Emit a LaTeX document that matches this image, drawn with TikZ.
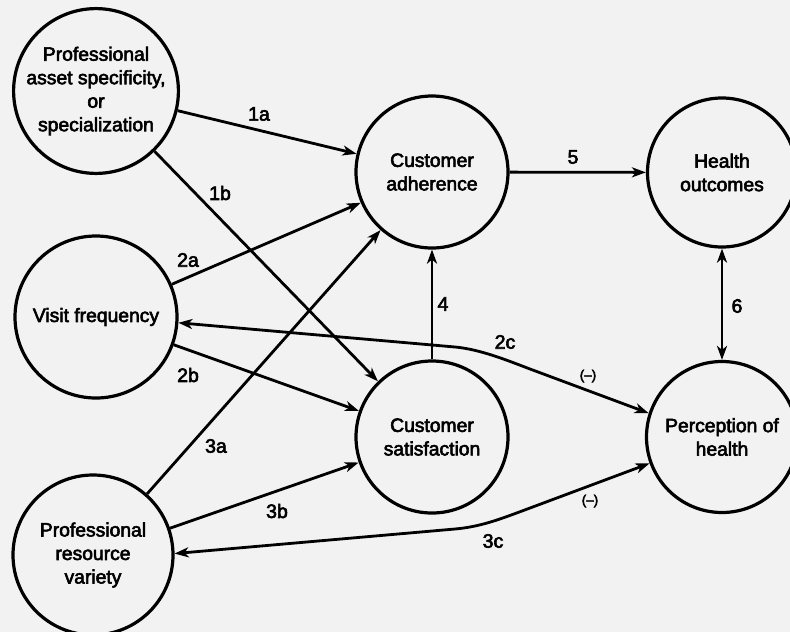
\documentclass[tikz,border=0pt]{standalone}
\usepackage{fontspec}
\setmainfont{Liberation Sans}[BoldFont=Liberation Sans,BoldFeatures={FakeBold=3}]
\usetikzlibrary{arrows.meta}
\begin{document}
\begin{tikzpicture}[x=1pt,y=-1pt,
  >={Stealth[length=14pt,width=10pt,inset=4pt]},
  construct/.style={circle,draw,line width=3.2pt,inner sep=0pt,align=center,
    font=\fontsize{19.3}{23.5}\selectfont\bfseries},
  link/.style={line width=2.8pt,->},
  twoway/.style={line width=2.8pt,<->},
  pathno/.style={inner sep=0pt,font=\fontsize{19.5}{23}\selectfont\bfseries},
  signlab/.style={inner sep=0pt,font=\fontsize{13.5}{16}\selectfont\bfseries}]
\fill[black!5] (0,0) rectangle (790,632);
\useasboundingbox (0,0) rectangle (790,632);

% constructs
\node[construct,minimum size=162pt] (asset) at (96,91)
  {Professional\\asset specificity,\\or\\specialization};
\node[construct,minimum size=162pt] (visit) at (96,317) {Visit frequency};
\node[construct,minimum size=160pt] (variety) at (93,555)
  {Professional\\resource\\variety};
\node[construct,minimum size=152pt] (adh) at (432,172) {Customer\\adherence};
\node[construct,minimum size=152pt] (sat) at (432,437) {Customer\\satisfaction};
\node[construct,minimum size=149pt] (hout) at (722,172.5) {Health\\outcomes};
\node[construct,minimum size=151pt] (perc) at (722,437) {Perception of\\health};

% bend points of the two feedback paths
\coordinate (v2c) at (455,347);
\coordinate (p2c) at (530,369);
\coordinate (v3c) at (455,529);
\coordinate (p3c) at (522,511);

% hypothesised paths
\draw[link] (asset) -- (adh);
\draw[link] (asset) -- (sat);
\draw[link] (visit) -- (adh);
\draw[link] (visit) -- (sat);
\draw[link] (variety) -- (adh);
\draw[link] (variety) -- (sat);
\draw[link] (sat) -- (adh);
\draw[link] (adh) -- (hout);
\draw[twoway] (hout) -- (perc);
\draw[twoway] (visit.-4) -- (v2c) .. controls (480,349.3) and (506.6,360.1) .. (p2c) -- (perc.162);
\draw[twoway] (variety.1) -- (v3c) .. controls (479.9,526.8) and (498.5,519.7) .. (p3c) -- (perc.-160);

% path labels
\node[pathno] (l1a) at (259,114) {1a};
\node[pathno] (l1b) at (220,193) {1b};
\node[pathno] (l2a) at (188,260) {2a};
\node[pathno] (l2b) at (188,375) {2b};
\node[pathno] (l3a) at (216,446) {3a};
\node[pathno] (l3b) at (277,511) {3b};
\node[pathno] (l4) at (443,304) {4};
\node[pathno] (l5) at (573,157) {5};
\node[pathno] (l6) at (737,306) {6};
\node[pathno] (l2c) at (505,342) {2c};
\node[pathno] (l3c) at (493,541) {3c};
\node[signlab] (s2c) at (588,376) {(–)};
\node[signlab] (s3c) at (590,501) {(–)};
\end{tikzpicture}
\end{document}
